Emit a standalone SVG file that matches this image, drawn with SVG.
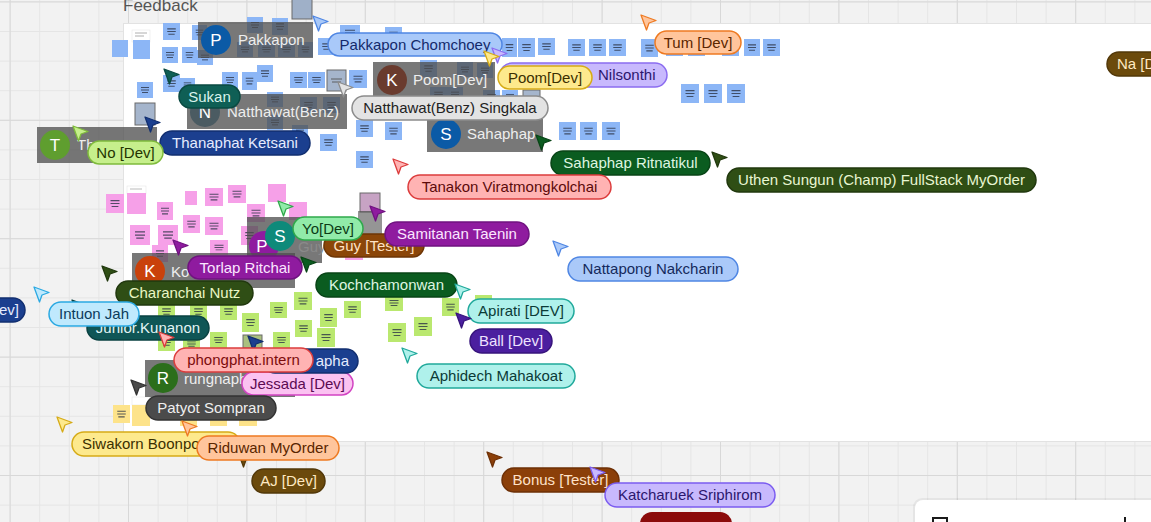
<svg xmlns="http://www.w3.org/2000/svg" width="1151" height="522" viewBox="0 0 1151 522">
<defs>
<pattern id="gmin" width="29.6" height="29.6" patternUnits="userSpaceOnUse" x="9.6" y="1.4"><path d="M0 0.5H29.6M0.5 0V29.6" stroke="#e5e5e5" stroke-width="1" fill="none"/></pattern>
<pattern id="gmaj" width="118.4" height="118.4" patternUnits="userSpaceOnUse" x="9.6" y="1.4"><path d="M0 0.5H118.4M0.5 0V118.4" stroke="#d8d8d8" stroke-width="1" fill="none"/></pattern>
<symbol id="n" viewBox="0 0 16 16" preserveAspectRatio="none"><rect width="16" height="16"/><path d="M4 5.5h8M4 8h8M5 10.5h6" stroke="#2c3546" stroke-width="1" opacity="0.8"/></symbol>
<path id="cur" d="M0 0L15 5.5L8 8L5.5 15Z"/>
<style>
.b{fill:#8cb6f6}.p{fill:#f6a0e8}.l{fill:#bae86f}.y{fill:#fde38a}
.sel{stroke:#6a6a6a;stroke-width:1}
.cd{fill:#4e4e4e;fill-opacity:.76}
.av{font:17px "Liberation Sans",Arial,sans-serif;fill:#fff;text-anchor:middle}
.cn{font:15px "Liberation Sans",Arial,sans-serif;fill:#eeeeee}
.t{font:15px "Liberation Sans",Arial,sans-serif;text-anchor:middle}
.ts{font:15px "Liberation Sans",Arial,sans-serif}
.pl{stroke-width:1.5}
use.c{stroke-width:1.3;stroke-linejoin:round}
</style>
</defs>

<!-- canvas -->
<rect width="1151" height="522" fill="#f2f2f2"/>
<rect width="1151" height="522" fill="url(#gmin)"/>
<rect width="1151" height="522" fill="url(#gmaj)"/>
<rect x="123.5" y="23.5" width="1100" height="418" fill="#ffffff" stroke="#e2e2e2"/>
<text x="123" y="11" style="font:17px 'Liberation Sans',Arial,sans-serif;fill:#555">Feedback</text>

<!-- bottom right panel -->
<g id="panel">
<rect x="913" y="498" width="264" height="64" rx="9" fill="#000" opacity="0.05"/>
<rect x="915" y="500" width="260" height="60" rx="8" fill="#fff"/>
<rect x="933" y="518" width="14" height="10" fill="none" stroke="#1a1a1a" stroke-width="2"/>
<rect x="1124" y="517" width="2" height="6" fill="#1a1a1a"/>
</g>

<!-- sticky notes -->
<g id="notes">
<rect x="292" y="-2" width="20" height="21" fill="#9fb0c8" class="sel"/>
<use href="#n" class="b" x="163" y="23" width="17" height="17"/>
<use href="#n" class="b" x="192" y="25" width="15" height="15"/>
<use href="#n" class="b" x="247" y="17" width="16" height="16"/>
<use href="#n" class="b" x="272" y="18" width="16" height="17"/>
<rect x="112" y="40" width="16" height="17" class="b"/>
<rect x="132" y="30" width="18" height="12" fill="#fff" stroke="#e6e6e6" stroke-width=".6"/>
<path d="M135 33h12M135 36h9" stroke="#999" stroke-width=".8"/>
<rect x="133" y="40" width="17" height="19" class="b"/>
<use href="#n" class="b" x="162" y="47" width="16" height="16"/>
<use href="#n" class="b" x="182" y="47" width="15" height="16"/>
<use href="#n" class="b" x="197" y="50" width="16" height="15"/>
<use href="#n" class="b" x="237" y="42" width="16" height="15"/>
<use href="#n" class="b" x="258" y="42" width="17" height="15"/>
<use href="#n" class="b" x="278" y="42" width="17" height="15"/>
<use href="#n" class="b" x="298" y="42" width="15" height="15"/>
<use href="#n" class="b" x="318" y="38" width="17" height="17"/>
<use href="#n" class="b" x="340" y="25" width="20" height="15"/>
<use href="#n" class="b" x="385" y="27" width="17" height="15"/>
<use href="#n" class="b" x="163" y="75" width="17" height="17"/>
<use href="#n" class="b" x="180" y="78" width="15" height="14"/>
<use href="#n" class="b" x="222" y="72" width="16" height="16"/>
<use href="#n" class="b" x="242" y="72" width="15" height="18"/>
<use href="#n" class="b" x="257" y="65" width="16" height="17"/>
<use href="#n" class="b" x="290" y="72" width="17" height="16"/>
<use href="#n" class="b" x="308" y="72" width="17" height="16"/>
<rect x="327" y="70" width="19" height="21" fill="#a5b5cc" class="sel"/>
<path d="M331 79h11M332 82h9" stroke="#555" stroke-width=".9"/>
<use href="#n" class="b" x="349" y="70" width="18" height="18"/>
<use href="#n" class="b" x="137" y="82" width="16" height="16"/>
<rect x="135" y="103" width="20" height="22" fill="#a5b5cc" class="sel"/>
<use href="#n" class="b" x="267" y="92" width="16" height="15"/>
<use href="#n" class="b" x="300" y="97" width="17" height="16"/>
<use href="#n" class="b" x="323" y="97" width="17" height="16"/>
<use href="#n" class="b" x="267" y="115" width="16" height="15"/>
<use href="#n" class="b" x="292" y="125" width="16" height="15"/>
<use href="#n" class="b" x="320" y="134" width="17" height="17"/>
<use href="#n" class="b" x="356" y="120" width="17" height="17"/>
<use href="#n" class="b" x="385" y="122" width="17" height="18"/>
<use href="#n" class="b" x="356" y="151" width="17" height="17"/>
<use href="#n" class="b" x="420" y="60" width="17" height="17"/>
<use href="#n" class="b" x="457" y="62" width="16" height="15"/>
<use href="#n" class="b" x="477" y="63" width="16" height="15"/>
<use href="#n" class="b" x="430" y="87" width="17" height="15"/>
<use href="#n" class="b" x="447" y="87" width="16" height="15"/>
<use href="#n" class="b" x="483" y="90" width="17" height="13"/>
<use href="#n" class="b" x="502" y="90" width="16" height="13"/>
<rect x="523" y="90" width="17" height="13" fill="#a5b5cc" class="sel"/>
<use href="#n" class="b" x="502" y="38" width="15" height="19"/>
<use href="#n" class="b" x="518" y="38" width="17" height="19"/>
<use href="#n" class="b" x="538" y="38" width="17" height="17"/>
<use href="#n" class="b" x="568" y="39" width="17" height="17"/>
<use href="#n" class="b" x="589" y="39" width="17" height="17"/>
<use href="#n" class="b" x="609" y="39" width="17" height="17"/>
<use href="#n" class="b" x="641" y="39" width="17" height="18"/>
<use href="#n" class="b" x="666" y="39" width="17" height="17"/>
<use href="#n" class="b" x="688" y="39" width="17" height="17"/>
<use href="#n" class="b" x="722" y="39" width="17" height="17"/>
<use href="#n" class="b" x="744" y="39" width="16" height="17"/>
<use href="#n" class="b" x="763" y="39" width="17" height="17"/>
<use href="#n" class="b" x="681" y="84" width="18" height="19"/>
<use href="#n" class="b" x="704" y="84" width="18" height="19"/>
<use href="#n" class="b" x="727" y="84" width="18" height="19"/>
<use href="#n" class="b" x="559" y="122" width="17" height="18"/>
<use href="#n" class="b" x="580" y="122" width="17" height="18"/>
<use href="#n" class="b" x="602" y="122" width="18" height="18"/>

<use href="#n" class="p" x="106" y="194" width="18" height="19"/>
<rect x="127" y="186" width="19" height="8" fill="#fff" stroke="#e6e6e6" stroke-width=".6"/>
<path d="M130 189h12" stroke="#aaa" stroke-width=".8"/>
<rect x="127" y="193" width="19" height="21" class="p"/>
<use href="#n" class="p" x="157" y="202" width="16" height="18"/>
<rect x="185" y="191" width="12" height="14" class="p"/>
<use href="#n" class="p" x="205" y="188" width="18" height="18"/>
<use href="#n" class="p" x="228" y="185" width="18" height="18"/>
<rect x="268" y="184" width="18" height="18" class="p"/>
<use href="#n" class="p" x="247" y="204" width="18" height="18"/>
<use href="#n" class="p" x="183" y="215" width="17" height="18"/>
<use href="#n" class="p" x="205" y="217" width="18" height="18"/>
<use href="#n" class="p" x="130" y="225" width="20" height="20"/>
<use href="#n" class="p" x="158" y="225" width="20" height="20"/>
<use href="#n" class="p" x="241" y="226" width="17" height="19"/>
<use href="#n" class="p" x="210" y="240" width="18" height="15"/>
<use href="#n" class="p" x="152" y="245" width="16" height="17"/>
<rect x="289" y="202" width="18" height="18" class="p"/>
<rect x="360" y="193" width="20" height="19" fill="#c7a3c4" class="sel"/>
<rect x="345" y="248" width="18" height="12" class="p"/>

<use href="#n" class="l" x="158" y="303" width="17" height="17"/>
<use href="#n" class="l" x="190" y="303" width="17" height="17"/>
<use href="#n" class="l" x="220" y="303" width="17" height="17"/>
<use href="#n" class="l" x="242" y="313" width="17" height="19"/>
<use href="#n" class="l" x="270" y="302" width="17" height="16"/>
<use href="#n" class="l" x="294" y="292" width="18" height="18"/>
<use href="#n" class="l" x="320" y="308" width="17" height="19"/>
<use href="#n" class="l" x="344" y="301" width="17" height="17"/>
<use href="#n" class="l" x="295" y="320" width="17" height="17"/>
<use href="#n" class="l" x="317" y="328" width="18" height="19"/>
<use href="#n" class="l" x="273" y="332" width="17" height="16"/>
<use href="#n" class="l" x="210" y="332" width="17" height="16"/>
<use href="#n" class="l" x="158" y="334" width="17" height="17"/>
<use href="#n" class="l" x="183" y="337" width="17" height="14"/>
<rect x="243" y="335" width="19" height="13" fill="#a9c07e" class="sel"/>
<use href="#n" class="l" x="385" y="295" width="18" height="16"/>
<use href="#n" class="l" x="442" y="298" width="17" height="18"/>
<rect x="475" y="295" width="17" height="10" class="l"/>
<use href="#n" class="l" x="388" y="323" width="18" height="19"/>
<use href="#n" class="l" x="414" y="317" width="18" height="19"/>

<use href="#n" class="y" x="113" y="405" width="17" height="18"/>
<rect x="132" y="397" width="18" height="8" fill="#fff" stroke="#e6e6e6" stroke-width=".6"/>
<rect x="132" y="405" width="18" height="21" class="y"/>
<rect x="180" y="406" width="17" height="20" class="y"/>
<rect x="210" y="406" width="17" height="20" class="y"/>
<rect x="239" y="406" width="18" height="20" class="y"/>
</g>

<!-- user cards -->
<g id="card-pakkapon"><rect x="198" y="22" width="115" height="36" class="cd"/><circle cx="216" cy="40" r="15" fill="#0b5aa6"/><text x="216" y="46" class="av">P</text><text x="238" y="45" class="cn">Pakkapon</text></g>
<g id="card-poom"><rect x="373" y="62" width="122" height="35" class="cd"/><circle cx="392" cy="80" r="15" fill="#6a3b2e"/><text x="392" y="86" class="av">K</text><text x="413" y="85" class="cn">Poom[Dev]</text></g>
<g id="card-natthawat"><rect x="187" y="94" width="160" height="35" class="cd"/><circle cx="205" cy="112" r="15" fill="#4b5b62"/><text x="205" y="118" class="av">N</text><text x="227" y="117" class="cn" textLength="112">Natthawat(Benz)</text></g>
<g id="card-sahaphap"><rect x="427" y="119" width="116" height="33" class="cd"/><circle cx="446" cy="134" r="15" fill="#0b5aa6"/><text x="446" y="140" class="av">S</text><text x="467" y="139" class="cn">Sahaphap</text></g>
<g id="card-t"><rect x="37" y="127" width="120" height="36" class="cd"/><circle cx="55" cy="145" r="15" fill="#5f9e2f"/><text x="55" y="151" class="av">T</text><text x="77" y="150" class="cn">Th</text></g>
<g id="card-guy"><rect x="247" y="217" width="75" height="46" class="cd"/><circle cx="264" cy="246" r="15" fill="#8f1b9f"/><text x="262" y="252" class="av">P</text><circle cx="280" cy="236" r="15" fill="#0e8a7a"/><text x="280" y="242" class="av">S</text><text x="298" y="252" class="cn" style="fill:#8a8a8a">Guy</text></g>
<g id="card-box"><rect x="358" y="211" width="24" height="23" class="cd" style="fill-opacity:.6"/></g>
<g id="card-k"><rect x="132" y="253" width="163" height="35" class="cd"/><circle cx="150" cy="271" r="15" fill="#c9410b"/><text x="150" y="277" class="av">K</text><text x="171" y="277" class="cn">Ko</text></g>
<g id="card-r"><rect x="145" y="360" width="150" height="37" class="cd"/><circle cx="163" cy="378" r="15" fill="#2b6e1b"/><text x="163" y="384" class="av">R</text><text x="184" y="384" class="cn">rungnaph</text></g>

<!-- cursors with name tags -->
<g id="cursors">
<g id="u-na"><rect x="1107" y="52" width="70" height="24" rx="12" fill="#6b4a0c" stroke="#523809" class="pl"/><text x="1117" y="69" class="ts" fill="#ffe9c2">Na [Dev]</text></g>
<g id="u-red"><rect x="640" y="512" width="92" height="30" rx="12" fill="#8b0b0b"/></g>
<g id="u-dev-left"><rect x="-60" y="298" width="85" height="24" rx="12" fill="#1b3f8f" stroke="#122f70" class="pl"/><text x="19" y="315" class="ts" text-anchor="end" fill="#e6ecff">[Dev]</text></g>

<g id="u-pakkapon"><use href="#cur" class="c" x="313" y="16" fill="#a9c9f9" stroke="#4f86e3"/><rect x="328" y="33" width="174" height="23" rx="11.5" fill="#a9c9f9" stroke="#4f86e3" class="pl"/><text x="415" y="49.5" class="t" fill="#14296b">Pakkapon Chomchoey</text></g>
<g id="u-tum"><use href="#cur" class="c" x="641" y="15" fill="#ffc59c" stroke="#ee7a22"/><rect x="655" y="31" width="86" height="23" rx="11.5" fill="#ffc59c" stroke="#ee7a22" class="pl"/><text x="698" y="47.5" class="t" fill="#5a2600">Tum [Dev]</text></g>
<g id="u-nilsonthi"><use href="#cur" class="c" x="492" y="48" fill="#c8b9fd" stroke="#8b6cf0"/><rect x="500" y="63" width="167" height="24" rx="12" fill="#c8b9fd" stroke="#8b6cf0" class="pl"/><text x="598" y="80" class="ts" fill="#2c176d">Nilsonthi</text></g>
<g id="u-poom"><use href="#cur" class="c" x="484" y="51" fill="#fde98d" stroke="#d6ab17"/><rect x="498" y="66" width="94" height="23" rx="11.5" fill="#fde98d" stroke="#d6ab17" class="pl"/><text x="545" y="82.5" class="t" fill="#3b2f00">Poom[Dev]</text></g>
<g id="u-natthawat"><use href="#cur" class="c" x="338" y="82" fill="#e3e3e3" stroke="#8c8c8c"/><rect x="352" y="96" width="196" height="24" rx="12" fill="#e3e3e3" stroke="#8c8c8c" class="pl"/><text x="450" y="113" class="t" fill="#222">Natthawat(Benz) Singkala</text></g>
<g id="u-sukan"><use href="#cur" class="c" x="164" y="69" fill="#0f5f55" stroke="#0a4a42"/><rect x="179" y="85" width="61" height="23" rx="11.5" fill="#0f5f55" stroke="#0a4a42" class="pl"/><text x="209.5" y="101.5" class="t" fill="#d9f3ec">Sukan</text></g>
<g id="u-thanaphat"><use href="#cur" class="c" x="145" y="117" fill="#1b3f8f" stroke="#122f70"/><rect x="160" y="131" width="150" height="24" rx="12" fill="#1b3f8f" stroke="#122f70" class="pl"/><text x="235" y="148" class="t" fill="#e6ecff">Thanaphat Ketsani</text></g>
<g id="u-no"><use href="#cur" class="c" x="73" y="126" fill="#c6ef8c" stroke="#7fbb3c"/><rect x="88" y="141" width="75" height="23" rx="11.5" fill="#c6ef8c" stroke="#7fbb3c" class="pl"/><text x="125.5" y="157.5" class="t" fill="#243400">No [Dev]</text></g>
<g id="u-sahaphap"><use href="#cur" class="c" x="536" y="135" fill="#0b5c20" stroke="#084416"/><rect x="551" y="151" width="159" height="24" rx="12" fill="#0b5c20" stroke="#084416" class="pl"/><text x="630.5" y="168" class="t" fill="#dff6e0">Sahaphap Ritnatikul</text></g>
<g id="u-uthen"><use href="#cur" class="c" x="712" y="152" fill="#2f4e15" stroke="#21380e"/><rect x="727" y="168" width="309" height="24" rx="12" fill="#2f4e15" stroke="#21380e" class="pl"/><text x="881.5" y="185" class="t" fill="#e9f6d2">Uthen Sungun (Champ) FullStack MyOrder</text></g>
<g id="u-tanakon"><use href="#cur" class="c" x="393" y="159" fill="#ffb3b3" stroke="#dc3c3c"/><rect x="408" y="175" width="203" height="24" rx="12" fill="#ffb3b3" stroke="#dc3c3c" class="pl"/><text x="509.5" y="192" class="t" fill="#5c0b0b">Tanakon Viratmongkolchai</text></g>
<g id="u-guy"><rect x="324" y="234" width="100" height="23" rx="11.5" fill="#8b4609" stroke="#6e3606" class="pl"/><text x="374" y="250.5" class="t" fill="#ffe2c4">Guy [Tester]</text></g>
<g id="u-samitanan"><use href="#cur" class="c" x="370" y="206" fill="#8f1b9f" stroke="#701380"/><rect x="385" y="222" width="144" height="24" rx="12" fill="#8f1b9f" stroke="#701380" class="pl"/><text x="457" y="239" class="t" fill="#fbe6ff">Samitanan Taenin</text></g>
<g id="u-yo"><use href="#cur" class="c" x="278" y="201" fill="#91eba9" stroke="#2fa94b"/><rect x="293" y="217" width="70" height="23" rx="11.5" fill="#91eba9" stroke="#2fa94b" class="pl"/><text x="328" y="233.5" class="t" fill="#0b3b15">Yo[Dev]</text></g>
<g id="u-torlap"><use href="#cur" class="c" x="173" y="240" fill="#8f1b9f" stroke="#701380"/><rect x="188" y="256" width="114" height="23" rx="11.5" fill="#8f1b9f" stroke="#701380" class="pl"/><text x="245" y="272.5" class="t" fill="#fbe6ff">Torlap Ritchai</text></g>
<g id="u-kochchamonwan"><use href="#cur" class="c" x="301" y="257" fill="#0b5c20" stroke="#084416"/><rect x="316" y="273" width="141" height="24" rx="12" fill="#0b5c20" stroke="#084416" class="pl"/><text x="386.5" y="290" class="t" fill="#dff6e0">Kochchamonwan</text></g>
<g id="u-nattapong"><use href="#cur" class="c" x="553" y="241" fill="#aac9f9" stroke="#4f86e3"/><rect x="568" y="257" width="170" height="24" rx="12" fill="#aac9f9" stroke="#4f86e3" class="pl"/><text x="653" y="274" class="t" fill="#15295c">Nattapong Nakcharin</text></g>
<g id="u-apirati"><use href="#cur" class="c" x="455" y="284" fill="#aff1eb" stroke="#20a99b"/><rect x="468" y="299" width="106" height="24" rx="12" fill="#aff1eb" stroke="#20a99b" class="pl"/><text x="521" y="316" class="t" fill="#0b3b37">Apirati [DEV]</text></g>
<g id="u-ball"><use href="#cur" class="c" x="456" y="313" fill="#4b1f9f" stroke="#37147c"/><rect x="470" y="329" width="82" height="24" rx="12" fill="#4b1f9f" stroke="#37147c" class="pl"/><text x="511" y="346" class="t" fill="#eee2ff">Ball [Dev]</text></g>
<g id="u-aphidech"><use href="#cur" class="c" x="402" y="348" fill="#aff1eb" stroke="#20a99b"/><rect x="417" y="364" width="158" height="24" rx="12" fill="#aff1eb" stroke="#20a99b" class="pl"/><text x="496" y="381" class="t" fill="#0b3b37">Aphidech Mahakoat</text></g>
<g id="u-charanchai"><use href="#cur" class="c" x="102" y="266" fill="#2f4e15" stroke="#21380e"/><rect x="116" y="281" width="137" height="24" rx="12" fill="#2f4e15" stroke="#21380e" class="pl"/><text x="184.5" y="298" class="t" fill="#eaf7c4">Charanchai Nutz</text></g>
<g id="u-junior"><use href="#cur" class="c" x="72" y="300" fill="#0f5656" stroke="#0a4242"/><rect x="87" y="316" width="122" height="24" rx="12" fill="#0f5656" stroke="#0a4242" class="pl"/><text x="148" y="333" class="t" fill="#e2f5f5">Junior.Kunanon</text></g>
<g id="u-intuon"><use href="#cur" class="c" x="34" y="287" fill="#bfe9fd" stroke="#2ba9e2"/><rect x="49" y="302" width="90" height="24" rx="12" fill="#bfe9fd" stroke="#2ba9e2" class="pl"/><text x="94" y="319" class="t" fill="#0b3b5b">Intuon Jah</text></g>
<g id="u-jessada"><use href="#cur" class="c" x="227" y="356" fill="#fbc2f1" stroke="#d243c2"/><rect x="242" y="372" width="111" height="23" rx="11.5" fill="#fbc2f1" stroke="#d243c2" class="pl"/><text x="297.5" y="388.5" class="t" fill="#5c0b52">Jessada [Dev]</text></g>
<g id="u-apha"><use href="#cur" class="c" x="248" y="336" fill="#1b3f8f" stroke="#122f70"/><rect x="263" y="349" width="95" height="24" rx="12" fill="#1b3f8f" stroke="#122f70" class="pl"/><text x="349" y="366" class="ts" text-anchor="end" fill="#e6ecff">apha</text></g>
<g id="u-phongphat"><use href="#cur" class="c" x="159" y="332" fill="#ffb3b3" stroke="#dc3c3c"/><rect x="174" y="348" width="139" height="24" rx="12" fill="#ffb3b3" stroke="#dc3c3c" class="pl"/><text x="243.5" y="365" class="t" fill="#7c0c0c">phongphat.intern</text></g>
<g id="u-patyot"><use href="#cur" class="c" x="131" y="380" fill="#4b4b4b" stroke="#333"/><rect x="146" y="396" width="130" height="24" rx="12" fill="#4b4b4b" stroke="#333" class="pl"/><text x="211" y="413" class="t" fill="#efefef">Patyot Sompran</text></g>
<g id="u-siwakorn"><use href="#cur" class="c" x="57" y="417" fill="#fde98d" stroke="#d6ab17"/><rect x="72" y="432" width="168" height="24" rx="12" fill="#fde98d" stroke="#d6ab17" class="pl"/><text x="82" y="449" class="ts" fill="#3b2f00">Siwakorn Boonpo</text></g>
<g id="u-aj"><use href="#cur" class="c" x="238" y="452" fill="#6b4a0c" stroke="#523809"/><rect x="252" y="469" width="73" height="24" rx="12" fill="#6b4a0c" stroke="#523809" class="pl"/><text x="288.5" y="486" class="t" fill="#ffe9c2">AJ [Dev]</text></g>
<g id="u-riduwan"><use href="#cur" class="c" x="182" y="421" fill="#ffc59c" stroke="#ee7a22"/><rect x="197" y="436" width="142" height="24" rx="12" fill="#ffc59c" stroke="#ee7a22" class="pl"/><text x="268" y="453" class="t" fill="#5a2600">Riduwan MyOrder</text></g>
<g id="u-bonus"><use href="#cur" class="c" x="487" y="452" fill="#8b3f09" stroke="#6e3006"/><rect x="502" y="468" width="117" height="24" rx="12" fill="#8b3f09" stroke="#6e3006" class="pl"/><text x="560.5" y="485" class="t" fill="#ffe2c8">Bonus [Tester]</text></g>
<g id="u-katcharuek"><use href="#cur" class="c" x="590" y="467" fill="#c8b9fd" stroke="#7b5cf0"/><rect x="605" y="483" width="170" height="24" rx="12" fill="#c8b9fd" stroke="#7b5cf0" class="pl"/><text x="690" y="500" class="t" fill="#2c176d">Katcharuek Sriphirom</text></g>
</g>
</svg>
